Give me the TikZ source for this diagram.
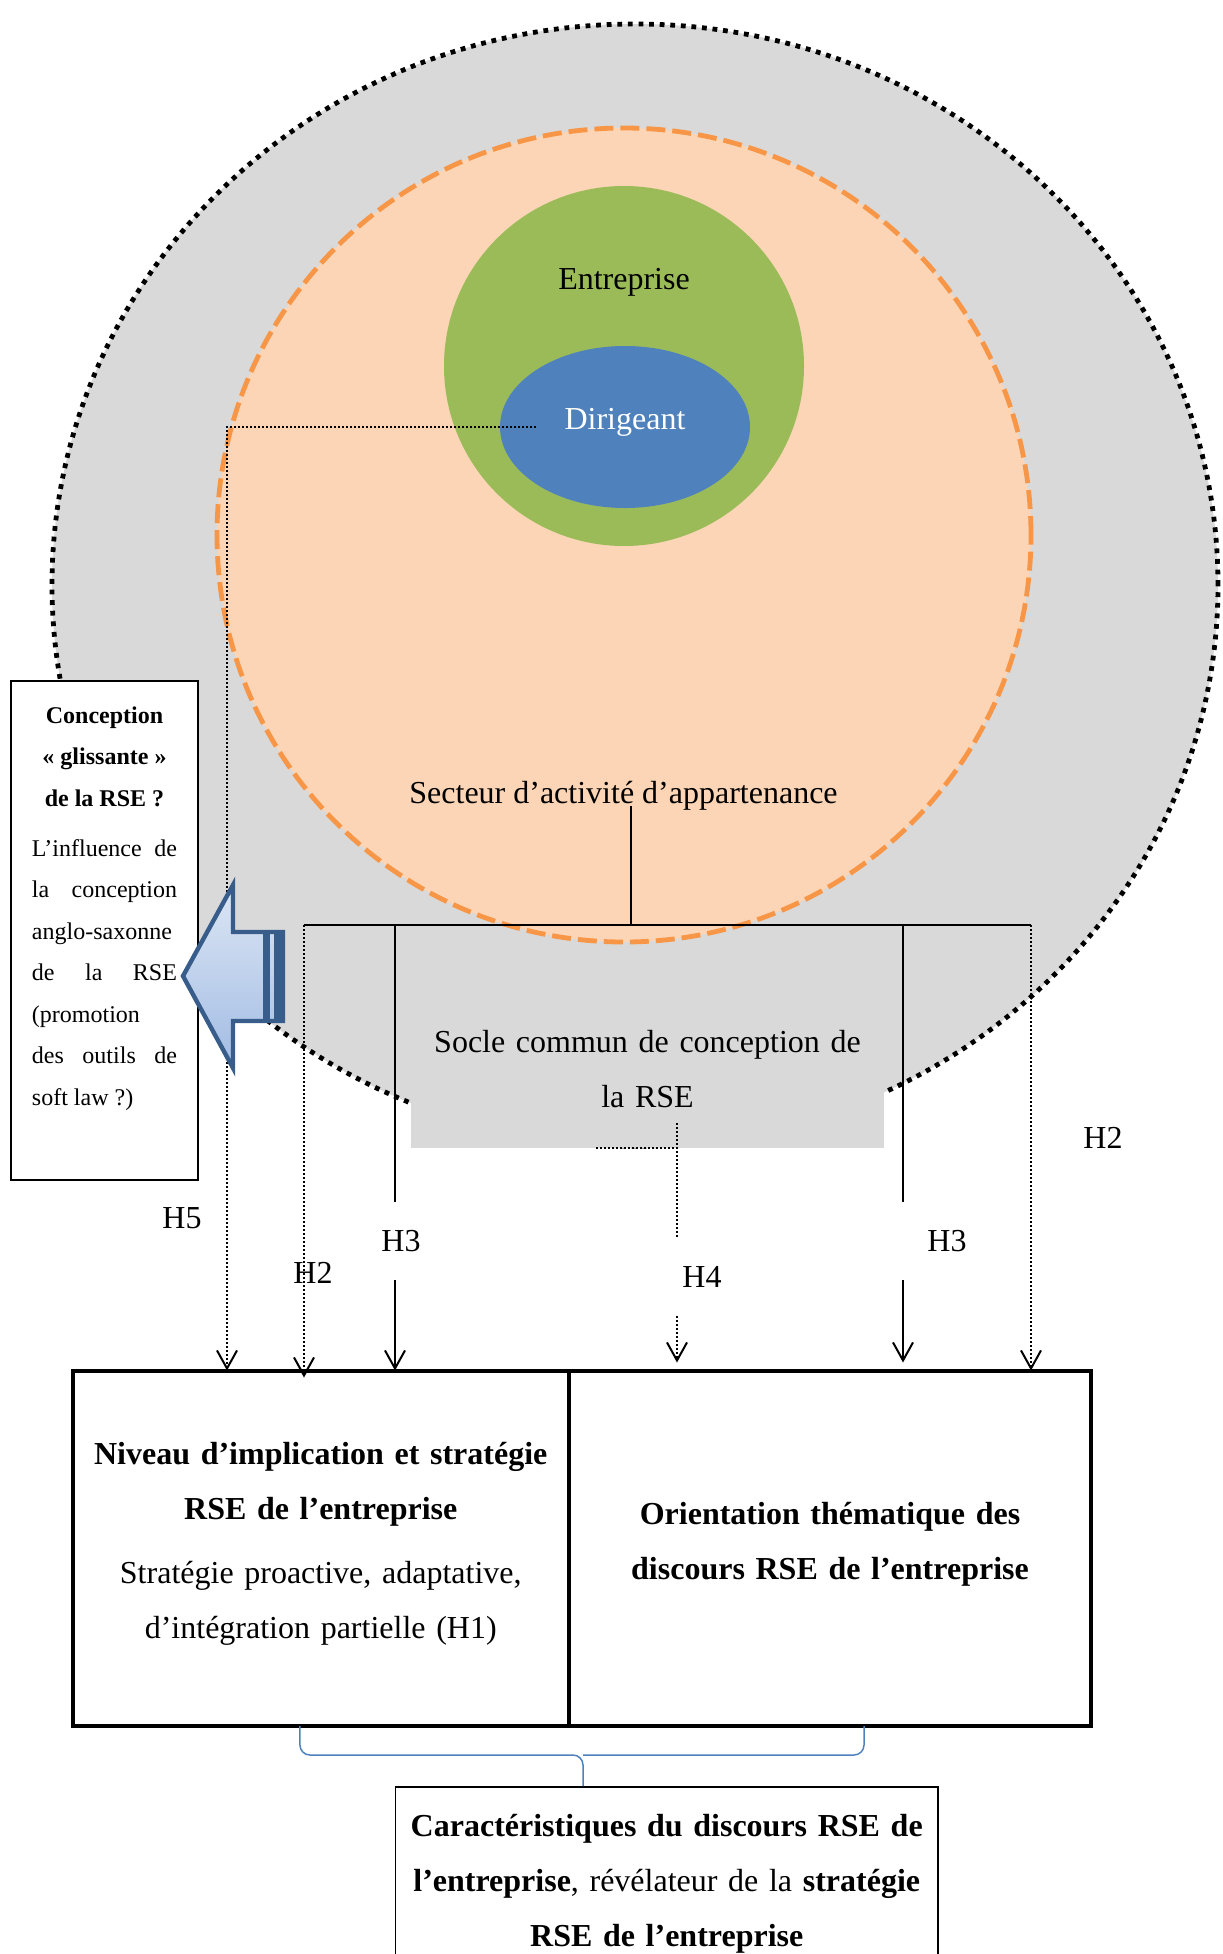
\documentclass[tikz,border=0pt]{standalone}
\usepackage{fontspec}
\setmainfont{Liberation Serif}
\usetikzlibrary{shapes,positioning,calc,arrows.meta}
\definecolor{gris}{HTML}{D9D9D9}
\definecolor{peche}{HTML}{FBD5B5}
\definecolor{orangeline}{HTML}{F79646}
\definecolor{vert}{HTML}{9BBB59}
\definecolor{bleu}{HTML}{4F81BD}
\definecolor{bleufonce}{HTML}{385D8A}
\definecolor{bleuclair}{HTML}{DCE6F4}
\definecolor{bleumoyen}{HTML}{A2BCE4}
\newcommand{\conceptiontexte}{\tolerance=10000 \hbadness=10000
    {\centering\bfseries Conception\\ «~glissante~»\\ de la RSE~?\par}\vspace{4.25pt}
    L’influence de\linebreak la conception\linebreak anglo-saxonne\linebreak de la RSE\linebreak (promotion\\ des outils de\linebreak soft law~?)}

\begin{document}
\begin{tikzpicture}[x=0.5pt, y=-0.5pt,
    every node/.append style={font=\fontsize{16}{27.5}\selectfont},
    fleche/.style={-{Straight Barb[length=9pt,width=10pt]}},
    trait/.style={line width=1pt},
    pointille/.style={line width=1pt, dash pattern=on 1pt off 1pt},
    hlab/.style={inner xsep=2pt, inner ysep=14pt},
    bigbox/.style={draw, line width=2pt, minimum height=177.75pt, inner sep=0pt, outer sep=0pt},
    txt/.style={text width=#1, align=center, inner sep=0pt},
    petit/.style={font=\fontsize{12}{20.75}\selectfont, text width=72.5pt, align=justify, inner sep=0pt},
    accolade/.style={draw=bleu, line width=0.75pt, rounded corners=5pt}]
    \useasboundingbox (0,0) rectangle (1222,1954);

    \node[ellipse, fill=gris, draw, line width=2.4pt, dash pattern=on 2.4pt off 2.9pt,
        minimum width=583pt, minimum height=561pt, inner sep=0pt] (contexte) at (635,585) {};
    \node[circle, fill=peche, draw=orangeline, line width=2.4pt, dash pattern=on 9.5pt off 3.5pt,
        minimum size=407pt, inner sep=0pt] (secteurzone) at (624,535) {};
    \node[circle, fill=vert, minimum size=180pt, inner sep=0pt,
        label={[yshift=41.75pt]center:Entreprise}] (entreprise) at (624,366) {};
    \node[ellipse, fill=bleu, minimum width=125pt, minimum height=81pt, inner sep=0pt,
        label={[text=white, yshift=2.25pt]center:Dirigeant}] (dirigeant) at (625,427) {};
    \node[anchor=base] (secteur) at (623.5,803) {Secteur d’activité d’appartenance};

    \node[fill=gris, minimum width=236.5pt, minimum height=78.5pt, inner sep=0pt,
        text width=230pt, align=center] (socle) at (647.5,1069.5) {Socle commun de conception de\\ la RSE};

    \node[bigbox, minimum width=248.25pt,
        label={[txt=240pt, yshift=2.1pt]center:\textbf{Niveau d’implication et stratégie\\ RSE de l’entreprise}\\[4.5pt] Stratégie proactive, adaptative,\\ d’intégration partielle (H1)}] (niveau) at (320.75,1548.25) {};
    \node[bigbox, minimum width=261pt, right=0pt of niveau,
        label={[txt=250pt, yshift=1.9pt]center:\textbf{Orientation thématique des\\ discours RSE de l’entreprise}}] (orientation) {};

    \node[hlab] (h5lab) at (182,1218) {H5};
    \node[hlab] (h2lab) at (313,1273) {H2};
    \node[hlab] (h3lab) at (401,1241) {H3};
    \node[hlab] (h4lab) at (702,1277) {H4};
    \node[hlab] (h3dlab) at (947,1241) {H3};
    \node[hlab] (h2dlab) at (1103,1138) {H2};

    \coordinate (barleft) at (304,925);
    \coordinate (barright) at (1031,925);
    \coordinate (barmid) at (631,925);
    \coordinate (h3g) at (395,925);
    \coordinate (h3d) at (903,925);
    \coordinate (h4haut) at (677,1123);
    \coordinate (h5coin) at (227,427);

    \draw[pointille] ([xshift=-25.75pt]socle.south) -- ([xshift=14.75pt]socle.south);
    \draw[line width=1.35pt] (barleft) -- (barright);
    \draw[trait] (secteur.base -| barmid) ++(0,3) -- (barmid);

    \draw[pointille, fleche] ($(dirigeant.center)+(-89,0)$) -- (h5coin) -- (h5coin |- niveau.north);
    \draw[pointille, fleche] (barleft) -- ($(barleft |- niveau.north)+(0,7)$);
    \draw[trait] (h3g) -- (h3g |- h3lab.north);
    \draw[trait, fleche] (h3g |- h3lab.south) -- (h3g |- niveau.north);
    \draw[pointille] (h4haut) -- (h4haut |- h4lab.north);
    \draw[pointille, fleche, shorten >=4pt] (h4haut |- h4lab.south) -- (h4haut |- orientation.north);
    \draw[trait] (h3d) -- (h3d |- h3dlab.north);
    \draw[trait, fleche, shorten >=4pt] (h3d |- h3dlab.south) -- (h3d |- orientation.north);
    \draw[pointille, fleche] (barright) -- (barright |- orientation.north);

    \node[draw, fill=white, line width=0.8pt, minimum width=93.5pt, minimum height=249.5pt, inner sep=0pt,
        label={[petit, yshift=10.9pt]center:\conceptiontexte}] (conception) at (104.5,930.5) {};

    \draw[draw=bleufonce, line width=2.2pt, top color=bleuclair, bottom color=bleumoyen]
        (183,976) -- (233,885) -- (233,932) -- (283,932) -- (283,1021) -- (233,1021) -- (233,1068) -- cycle;
    \fill[bleufonce] (263,932) rectangle (270,1021);
    \fill[bleufonce] (274,932) rectangle (284,1021);

    \node[draw, line width=0.8pt, minimum width=271.25pt, minimum height=96.5pt, inner sep=0pt,
        text width=262pt, align=center] (caract) at (666.75,1883.5)
        {\textbf{Caractéristiques du discours RSE de\\ l’entreprise}, révélateur de la \textbf{stratégie\\ RSE de l’entreprise}};

    \coordinate (pointe) at (583,1755);
    \draw[accolade] ([xshift=-10.4pt]niveau.south) |- (pointe) -- (pointe |- caract.north);
    \draw[accolade] ([xshift=17pt]orientation.south) |- (pointe);
\end{tikzpicture}
\end{document}
